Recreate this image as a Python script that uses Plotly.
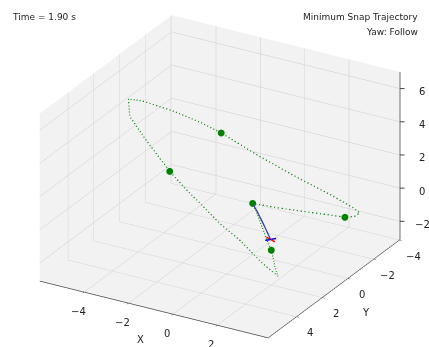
import plotly.graph_objects as go

# Waypoints (x, y, altitude)
wp_x = [0, 2, -2, -2, 3]
wp_y = [0, 2, 3, -1, -2]
wp_z = [0, -1, 3, 3, -1]

# Desired (minimum snap) trajectory, estimated samples
traj_x = [0, 0.4, 1.0, 1.6, 2, 2.6, 3.0, 2.4, 1.4, 0.5, -0.3, -1.2, -2, -3.2, -4.15, -4.55, -4.3,
          -3.4, -2.6, -2, -0.6, 0.8, 2.2, 3.1, 3.35, 3.25, 3, 2.2, 1.5, 0.7, 0]
traj_y = [0, 0.4, 1.0, 1.6, 2, 2.75, 3.2, 3.35, 3.4, 3.4, 3.3, 3.15, 3, 2.8, 2.4, 1.8, 1.2,
          0.3, -0.5, -1, -1.4, -1.8, -2.3, -2.5, -2.55, -2.3, -2, -1.55, -1.1, -0.5, 0]
traj_z = [0, -0.15, -0.5, -0.85, -1, -1.35, -1.55, -0.9, 0.2, 0.9, 1.6, 2.3, 3, 4.4, 5.25, 5.8, 5.45,
          4.6, 3.7, 3, 1.9, 0.9, -0.1, -0.7, -0.95, -1.05, -1, -0.8, -0.6, -0.3, 0]

# Flown path so far (t = 1.90 s)
path_x = [0, 0.5, 1.1, 1.8]
path_y = [0, 0.45, 1.0, 1.7]
path_z = [0, -0.15, -0.4, -0.6]

# Quadcopter arms at current position
arm1_x = [1.55, 2.05]
arm1_y = [1.6, 1.8]
arm1_z = [-0.6, -0.6]
arm2_x = [1.7, 1.9]
arm2_y = [1.95, 1.45]
arm2_z = [-0.55, -0.65]

x_range = [-6.0, 4.3]
y_range = [6.2, -4.05]
z_range = [-3.1, 7.0]
x_ticks = [-4, -2, 0, 2]
y_ticks = [-4, -2, 0, 2, 4]
z_ticks = [-2, 0, 2, 4, 6]

time_text = "Time = 1.90 s"
title1 = "Minimum Snap Trajectory"
title2 = "Yaw: Follow"

TXT = "#222222"
AX = "#444444"
FONT = "DejaVu Sans"
TFS = 10


def lab(v):
    return str(v).replace("-", "\u2212")


fig = go.Figure()
fig.add_trace(go.Scatter3d(x=traj_x, y=traj_y, z=traj_z, mode="lines",
                           line=dict(color="#1a8a1a", width=2.5, dash="dot"), showlegend=False))
fig.add_trace(go.Scatter3d(x=wp_x, y=wp_y, z=wp_z, mode="markers",
                           marker=dict(color="#008000", size=4), showlegend=False))
fig.add_trace(go.Scatter3d(x=path_x, y=path_y, z=path_z, mode="lines",
                           line=dict(color="#3040a0", width=2.5), showlegend=False))
fig.add_trace(go.Scatter3d(x=arm1_x, y=arm1_y, z=arm1_z, mode="lines",
                           line=dict(color="red", width=3), showlegend=False))
fig.add_trace(go.Scatter3d(x=arm2_x, y=arm2_y, z=arm2_z, mode="lines",
                           line=dict(color="blue", width=3), showlegend=False))
# z axis line on the right back edge (matplotlib style)
fig.add_trace(go.Scatter3d(x=[x_range[1], x_range[1]], y=[y_range[1], y_range[1]], z=z_range,
                           mode="lines", line=dict(color=AX, width=1.5), showlegend=False))

axis_common = dict(
    showbackground=True, backgroundcolor="#f2f2f2",
    gridcolor="#cccccc", gridwidth=1,
    zeroline=False, showspikes=False, showticklabels=False,
    title=dict(text=""),
)

LBL = dict(showarrow=False, xanchor="center", yanchor="middle",
           font=dict(family=FONT, size=TFS, color=TXT))

scene_ann = []
for zt in z_ticks:
    scene_ann.append(dict(x=x_range[1], y=y_range[1], z=zt, text="", showarrow=True,
                          arrowhead=0, arrowwidth=1, arrowcolor=AX, ax=6, ay=0))
    scene_ann.append(dict(x=x_range[1], y=y_range[1], z=zt, text=lab(zt),
                          xshift=22, yshift=-3, **LBL))
for xt in x_ticks:
    scene_ann.append(dict(x=xt, y=y_range[0], z=z_range[0], text=lab(xt),
                          xshift=-6, yshift=-19, **LBL))
for yt in y_ticks:
    scene_ann.append(dict(x=x_range[1], y=yt, z=z_range[0], text=lab(yt),
                          xshift=14, yshift=-16, **LBL))
scene_ann.append(dict(x=-1, y=y_range[0], z=z_range[0], text="X",
                      xshift=-10, yshift=-31, **LBL))
scene_ann.append(dict(x=x_range[1], y=1, z=z_range[0], text="Y",
                      xshift=31, yshift=-24, **LBL))

fig.update_layout(
    width=429, height=347,
    margin=dict(l=0, r=0, t=0, b=0),
    paper_bgcolor="white",
    font=dict(family=FONT, color=TXT),
    scene=dict(
        domain=dict(x=[0, 1], y=[0, 1]),
        xaxis=dict(range=x_range, tickvals=x_ticks, showline=True, linecolor=AX, linewidth=1.5,
                   ticks="outside", ticklen=3, tickcolor=AX, **axis_common),
        yaxis=dict(range=y_range, tickvals=y_ticks, showline=True, linecolor=AX, linewidth=1.5,
                   ticks="outside", ticklen=3, tickcolor=AX, **axis_common),
        zaxis=dict(range=z_range, tickvals=z_ticks, showline=False, ticks="", **axis_common),
        aspectmode="manual",
        aspectratio=dict(x=1.52, y=1.52, z=1.07),
        camera=dict(
            eye=dict(x=0.8717, y=-1.5724, z=0.8769),
            center=dict(x=-0.0309, y=-0.0090, z=0.0159),
            up=dict(x=0, y=0, z=1),
            projection=dict(type="orthographic"),
        ),
        annotations=scene_ann,
    ),
)
fig.add_annotation(text=time_text, x=10 / 429, y=1 - 17 / 347, xref="paper", yref="paper",
                   xanchor="left", yanchor="middle", showarrow=False,
                   font=dict(size=9, family=FONT, color=TXT))
fig.add_annotation(text=title1, x=420 / 429, y=1 - 17 / 347, xref="paper", yref="paper",
                   xanchor="right", yanchor="middle", showarrow=False,
                   font=dict(size=9, family=FONT, color=TXT))
fig.add_annotation(text=title2, x=420 / 429, y=1 - 32 / 347, xref="paper", yref="paper",
                   xanchor="right", yanchor="middle", showarrow=False,
                   font=dict(size=9, family=FONT, color=TXT))

fig.write_html("out.html", config={"displayModeBar": False},
               post_script="document.body.style.margin='0';")
